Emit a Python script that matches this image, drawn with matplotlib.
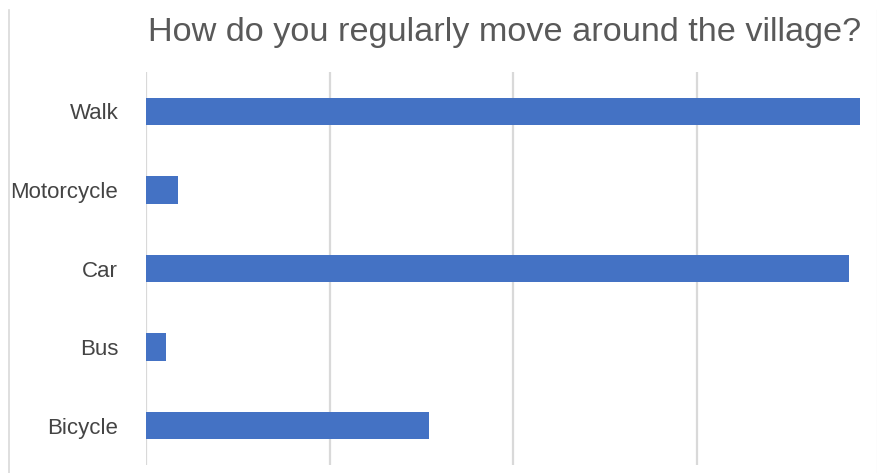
import matplotlib
matplotlib.use("Agg")
import matplotlib.pyplot as plt
from matplotlib.lines import Line2D

categories = ["Walk", "Motorcycle", "Car", "Bus", "Bicycle"]
values = [77.7, 3.5, 76.6, 2.2, 30.8]
title = "How do you regularly move around the village?"

W, H = 878, 473
fig = plt.figure(figsize=(W / 100, H / 100), dpi=100)
plt.rcParams['font.family'] = ['Liberation Sans', 'DejaVu Sans']

left, right, top, bottom = 146, 878, 72, 465
ax = fig.add_axes([left / W, 1 - bottom / H, (right - left) / W, (bottom - top) / H])

y = list(range(len(categories)))
ax.barh(y, values, height=0.35, color="#4472C4", zorder=3)
ax.set_ylim(len(categories) - 0.5, -0.5)
ax.set_xlim(0, 20 * (right - left) / 183.67)
ax.set_xticks([0, 20, 40, 60])
ax.set_xticklabels([])
ax.tick_params(axis='x', length=0)
ax.set_yticks(y)
ax.set_yticklabels(categories, fontsize=16, color="#444444")
ax.tick_params(axis='y', length=0, pad=20)
ax.grid(axis='x', color="#d9d9d9", linewidth=1.6, zorder=0)
for s in ax.spines.values():
    s.set_visible(False)

fig.text(505 / W, 1 - 32 / H, title, ha='center', va='center', fontsize=24.7, color="#595959")

fig.add_artist(Line2D([9 / W, 9 / W], [0, 1 - 10 / H], color="#d9d9d9", lw=1.2, transform=fig.transFigure))
fig.add_artist(Line2D([877 / W, 877 / W], [0, 1 - 10 / H], color="#f0f0f0", lw=1.0, transform=fig.transFigure))

fig.savefig("out.png", dpi=100)
